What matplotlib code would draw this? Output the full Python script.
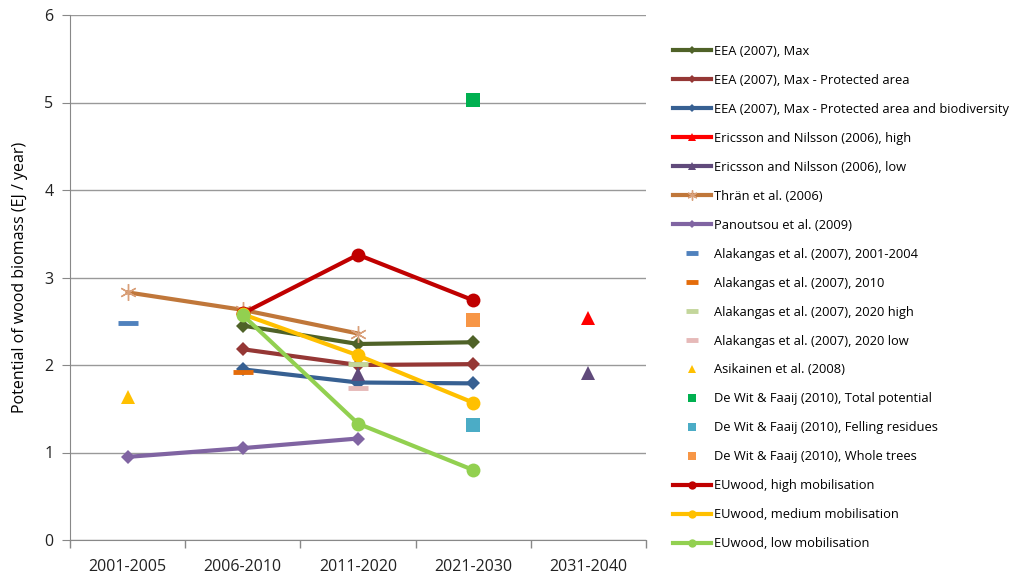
import matplotlib
matplotlib.use("Agg")
import matplotlib.pyplot as plt
import numpy as np

plt.rcParams['font.family'] = ['Open Sans', 'DejaVu Sans']

categories = ["2001-2005", "2006-2010", "2011-2020", "2021-2030", "2031-2040"]
nan = np.nan

eea_max = [nan, 2.45, 2.24, 2.26, nan]
eea_prot = [nan, 2.18, 2.00, 2.01, nan]
eea_bio = [nan, 1.95, 1.80, 1.79, nan]
ericsson_high = [nan, nan, nan, nan, 2.54]
ericsson_low = [nan, nan, 1.90, nan, 1.91]
thran = [2.83, 2.63, 2.36, nan, nan]
panoutsou = [0.95, 1.05, 1.16, nan, nan]
alak_2001 = [2.48, nan, nan, nan, nan]
alak_2010 = [nan, 1.92, nan, nan, nan]
alak_2020_high = [nan, nan, 2.01, nan, nan]
alak_2020_low = [nan, nan, 1.74, nan, nan]
asikainen = [1.63, nan, nan, nan, nan]
dewit_total = [nan, nan, nan, 5.03, nan]
dewit_felling = [nan, nan, nan, 1.31, nan]
dewit_whole = [nan, nan, nan, 2.51, nan]
euwood_high = [nan, 2.59, 3.26, 2.74, nan]
euwood_med = [nan, 2.58, 2.11, 1.57, nan]
euwood_low = [nan, 2.57, 1.33, 0.80, nan]

fig = plt.figure(figsize=(10.11, 5.81), dpi=100)
ax = fig.add_axes([70/1011, 41/581, 576/1011, 525/581])
x = np.arange(len(categories))

def line(vals, color, marker, ms, lw, label, mew=0):
    h, = ax.plot(x, vals, color=color, marker=marker, markersize=ms, lw=lw,
                 label=label, markeredgewidth=mew, markeredgecolor=color, zorder=3)
    return h

def pt(vals, color, marker, ms, label, mew=0):
    h, = ax.plot(x, vals, linestyle='none', color=color, marker=marker, markersize=ms,
                 label=label, markeredgewidth=mew, markeredgecolor=color, zorder=4)
    return h

h1 = line(eea_max, '#4F6228', 'D', 7, 3, 'EEA (2007), Max')
h2 = line(eea_prot, '#953735', 'D', 7, 3, 'EEA (2007), Max - Protected area')
h3 = line(eea_bio, '#376092', 'D', 7, 3, 'EEA (2007), Max - Protected area and biodiversity')
h4 = line(ericsson_high, '#FF0000', '^', 10, 3, 'Ericsson and Nilsson (2006), high')
h5 = line(ericsson_low, '#604A7B', '^', 10, 3, 'Ericsson and Nilsson (2006), low')
h6 = line(thran, '#C0773A', (6, 2, 0), 12, 3, 'Thrän et al. (2006)', mew=1.0)
h6.set_markeredgecolor('#D9A07A')
h7 = line(panoutsou, '#8064A2', 'D', 7, 3, 'Panoutsou et al. (2009)')
h8 = pt(alak_2001, '#4F81BD', '_', 14, 'Alakangas et al. (2007), 2001-2004', mew=3.5)
h9 = pt(alak_2010, '#E46C0A', '_', 14, 'Alakangas et al. (2007), 2010', mew=3.5)
h10 = pt(alak_2020_high, '#C3D69B', '_', 14, 'Alakangas et al. (2007), 2020 high', mew=3.5)
h11 = pt(alak_2020_low, '#E6B9B8', '_', 14, 'Alakangas et al. (2007), 2020 low', mew=3.5)
h12 = pt(asikainen, '#FFC000', '^', 10, 'Asikainen et al. (2008)')
h13 = pt(dewit_total, '#00B050', 's', 10, 'De Wit & Faaij (2010), Total potential')
h14 = pt(dewit_felling, '#4BACC6', 's', 10, 'De Wit & Faaij (2010), Felling residues')
h15 = pt(dewit_whole, '#F79646', 's', 10, 'De Wit & Faaij (2010), Whole trees')
h16 = line(euwood_high, '#C00000', 'o', 10, 3, 'EUwood, high mobilisation')
h17 = line(euwood_med, '#FFC000', 'o', 10, 3, 'EUwood, medium mobilisation')
h18 = line(euwood_low, '#92D050', 'o', 10, 3, 'EUwood, low mobilisation')

ax.set_xlim(-0.5, 4.5)
ax.set_ylim(0, 6)
ax.set_yticks(range(0, 7))
ax.set_xticks(x)
ax.set_xticklabels(categories)
ax.set_xticks(np.arange(-0.5, 5.0, 1.0), minor=True)
ax.tick_params(axis='x', which='major', length=0, pad=14, labelsize=11.5, colors='#222222')
ax.tick_params(axis='x', which='minor', length=6, color='#888888', width=1)
ax.tick_params(axis='y', length=6, color='#888888', labelsize=11.5, pad=6, colors='#222222')
ax.tick_params(axis='y', color='#888888')
ax.yaxis.grid(True, color='#999999', lw=1)
ax.set_axisbelow(True)
for s in ['top', 'right']:
    ax.spines[s].set_visible(False)
for s in ['left', 'bottom']:
    ax.spines[s].set_color('#888888')
ax.set_ylabel('Potential of wood biomass (EJ / year)', fontsize=11.5, labelpad=12, color='#000000')

leg = fig.legend(handles=[h1, h2, h3, h4, h5, h6, h7, h8, h9, h10, h11, h12, h13, h14, h15, h16, h17, h18],
                 loc='upper left', bbox_to_anchor=(673/1011, 1 - 45/581), frameon=False,
                 fontsize=9.3, labelspacing=1.235, handlelength=2.95, handletextpad=0.2,
                 borderaxespad=0, borderpad=0, markerscale=0.6)

fig.savefig('out.png', dpi=100)
